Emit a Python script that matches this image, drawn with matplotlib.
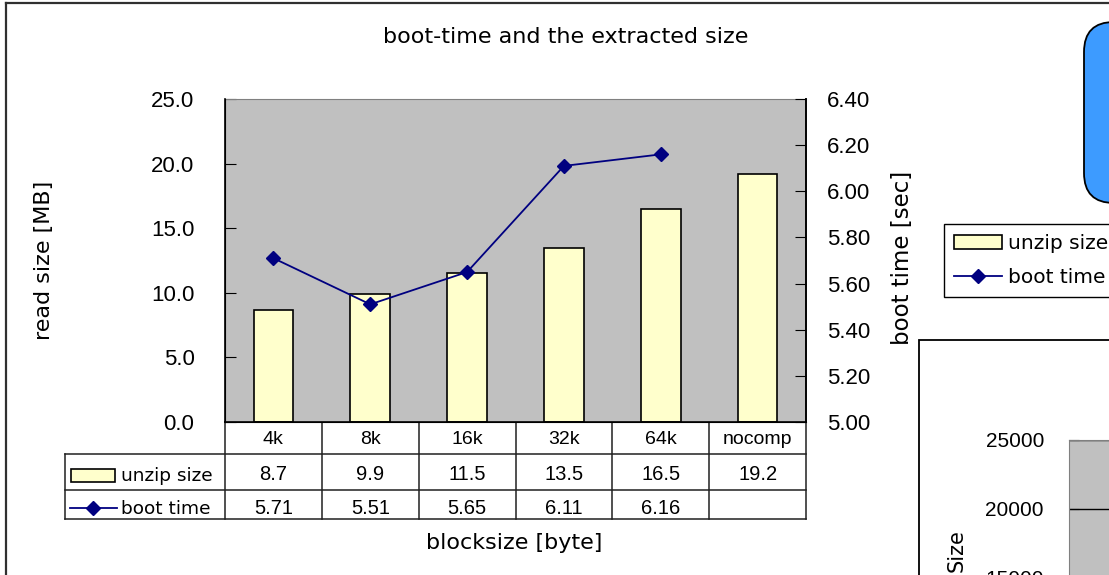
import numpy as np
import matplotlib.pyplot as plt
from matplotlib.patches import Rectangle, FancyBboxPatch

plt.rcParams['font.family'] = ['Liberation Sans', 'DejaVu Sans']
TXT = ['DejaVu Sans']   # wider face for the word labels

# data
blocksizes = ['4k', '8k', '16k', '32k', '64k', 'nocomp']
unzip_size = [8.7, 9.9, 11.5, 13.5, 16.5, 19.2]
boot_time = [5.71, 5.51, 5.65, 6.11, 6.16, np.nan]
size_ticks = [15000, 20000, 25000]   # second (cut off) chart

W, H = 1109, 575
fig = plt.figure(figsize=(W / 100, H / 100), dpi=100)


def box(l, t, r, b):
    """pixel box (top-left origin) -> figure fraction rect"""
    return [l / W, 1 - b / H, (r - l) / W, (b - t) / H]


# background layer in pixel coordinates (frames, shapes, free text)
deco = fig.add_axes([0, 0, 1, 1], zorder=0)
deco.set_xlim(0, W)
deco.set_ylim(H, 0)
deco.axis('off')
deco.plot([6, W], [3, 3], color='#303030', lw=1.6)
deco.plot([6, 6], [3, H], color='#303030', lw=1.6)
deco.add_patch(FancyBboxPatch((1084, 22), 120, 181,
                              boxstyle='round,pad=0,rounding_size=30',
                              fc='#3D9BFF', ec='black', lw=1.3))
deco.add_patch(Rectangle((919, 340), 300, 300, fc='white', ec='black', lw=1.3))

deco.text(566, 37, 'boot-time and the extracted size', ha='center', va='center',
          fontsize=16, family=TXT)
deco.text(44, 260, 'read size [MB]', rotation=90, ha='center', va='center',
          fontsize=16, family=TXT)
deco.text(903, 258, 'boot time [sec]', rotation=90, ha='center', va='center',
          fontsize=16.5, family=TXT)
deco.text(514, 543, 'blocksize [byte]', ha='center', va='center', fontsize=16, family=TXT)
deco.text(957, 551, 'Size', rotation=90, ha='center', va='center', fontsize=15, family=TXT)

# main chart
L, T, R, B = 225, 99, 806, 422
ax = fig.add_axes(box(L, T, R, B), zorder=2)
x = np.arange(len(blocksizes))
bars = ax.bar(x, unzip_size, width=0.41, color='#FFFFCC', edgecolor='black', lw=1.2,
              label='unzip size')
ax.set_facecolor('#C0C0C0')
ax.set_xlim(-0.5, len(blocksizes) - 0.5)
ax.set_ylim(0, 25)
ax.set_yticks(np.arange(0, 25.1, 5))
ax.set_yticklabels([f'{v:.1f}' for v in np.arange(0, 25.1, 5)])
ax.set_xticks([])
ax.tick_params(axis='y', direction='in', length=8, pad=22, labelsize=16)
ax.spines['top'].set_color('#808080')
for s in ['left', 'right', 'bottom']:
    ax.spines[s].set_color('black')
    ax.spines[s].set_linewidth(1.2)

ax2 = ax.twinx()
line, = ax2.plot(x, boot_time, color='#000080', lw=1.3, marker='D', ms=7,
                 label='boot time')
ax2.set_ylim(5.0, 6.4)
ax2.set_yticks(np.arange(5.0, 6.41, 0.2))
ax2.set_yticklabels([f'{v:.2f}' for v in np.arange(5.0, 6.41, 0.2)])
ax2.tick_params(axis='y', direction='in', length=8, pad=15, labelsize=16)
ax2.spines['right'].set_linewidth(1.2)
ax2.spines['top'].set_visible(False)

# data table under the plot
cw = (R - L) / len(blocksizes)


def cx(p):
    return -0.5 + (p - L) / cw


tab = fig.add_axes(box(L, B, R, 519), zorder=1)
tab.set_xlim(-0.5, len(blocksizes) - 0.5)
tab.set_ylim(97, 0)
tab.axis('off')
kw = dict(color='#202020', lw=1.1, clip_on=False)
left = cx(65)
for i in range(len(blocksizes) + 1):
    tab.plot([i - 0.5, i - 0.5], [0, 97], **kw)
tab.plot([left, left], [32, 97], **kw)
for yy in [32, 68, 97]:
    tab.plot([left, len(blocksizes) - 0.5], [yy, yy], **kw)

for i, name in enumerate(blocksizes):
    tab.text(i, 17, name, ha='center', va='center', fontsize=14)
    tab.text(i, 53, f'{unzip_size[i]}', ha='center', va='center', fontsize=14.5)
    if not np.isnan(boot_time[i]):
        tab.text(i, 86, f'{boot_time[i]:.2f}', ha='center', va='center', fontsize=14.5)

tab.add_patch(Rectangle((cx(71), 47), cx(115) - cx(71), 13, fc='#FFFFCC', ec='black',
                        lw=1.2, clip_on=False))
tab.text(cx(121), 54, 'unzip size', ha='left', va='center', fontsize=13.3, family=TXT)
tab.plot([cx(70), cx(117)], [86, 86], color='#000080', lw=1.3, clip_on=False)
tab.plot([cx(93)], [86], color='#000080', marker='D', ms=7, clip_on=False)
tab.text(cx(121), 87, 'boot time', ha='left', va='center', fontsize=13.3, family=TXT)

# legend at the right
leg = fig.legend(handles=[bars, line], labels=['unzip size', 'boot time'],
                 loc='upper left', bbox_to_anchor=(944 / W, 1 - 224 / H),
                 fancybox=False, edgecolor='black', framealpha=1,
                 prop={'family': TXT, 'size': 14.5},
                 handlelength=2.4, borderpad=0.5, labelspacing=0.75,
                 handletextpad=0.3, borderaxespad=0)
leg.get_frame().set_linewidth(1.0)
leg.set_zorder(3)

# second chart, mostly outside the picture
ax3 = fig.add_axes(box(1069, 440, 1250, 785), zorder=2)
ax3.set_facecolor('#C0C0C0')
ax3.set_ylim(0, 25000)
ax3.set_yticks(size_ticks)
ax3.set_xticks([])
ax3.grid(axis='y', color='black', lw=1.0)
ax3.tick_params(axis='y', direction='in', length=7, pad=18, labelsize=15)
for s in ax3.spines.values():
    s.set_color('#808080')

fig.savefig('out.png', dpi=100)
